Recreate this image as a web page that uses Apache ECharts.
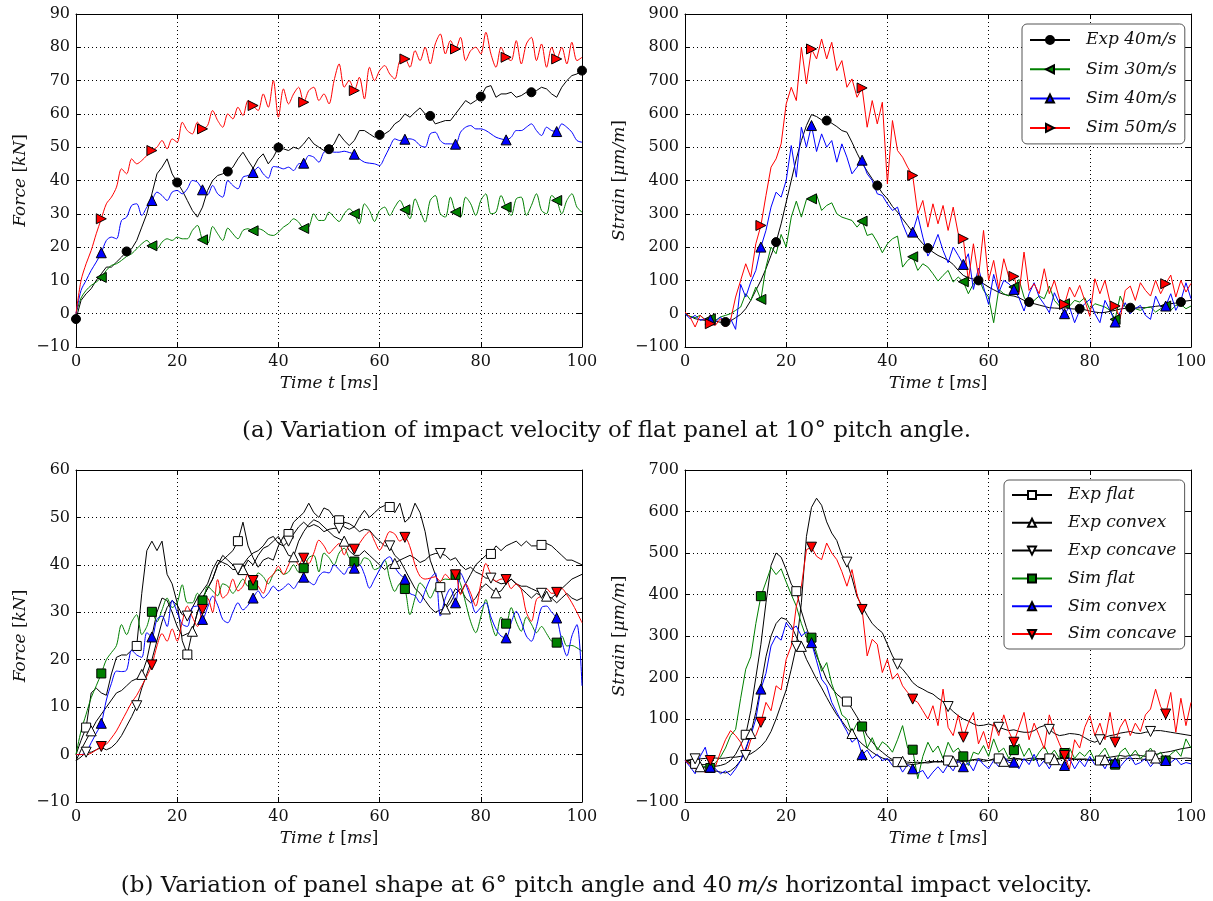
<!DOCTYPE html>
<html>
<head>
<meta charset="utf-8">
<script src="https://cdn.jsdelivr.net/npm/echarts@6/dist/echarts.min.js"></script>
<style>
  html, body { margin: 0; padding: 0; background: #fff; }
  #chart { width: 1213px; height: 901px; }
</style>
</head>
<body>
<div id="chart"></div>
<script>
// shared time base, ms
const timeMs = [0,1,2,3,4,5,6,7,8,9,10,11,12,13,14,15,16,17,18,19,20,21,22,23,24,25,26,27,28,29,30,31,32,33,34,35,36,37,38,39,40,41,42,43,44,45,46,47,48,49,50,51,52,53,54,55,56,57,58,59,60,61,62,63,64,65,66,67,68,69,70,71,72,73,74,75,76,77,78,79,80,81,82,83,84,85,86,87,88,89,90,91,92,93,94,95,96,97,98,99,100];

// where markers sit along each curve (ms)
const marksTens = [0,10,20,30,40,50,60,70,80,90,100];
const marksFives = [5,15,25,35,45,55,65,75,85,95];
const marksEights = [8,18,28,38,48,58,68,78,88,98];
const marksTwos = [2,12,22,32,42,52,62,72,82,92];
const marksThrees = [3,13,23,33,43,53,63,73,83,93];

// (a) force [kN], flat panel, 10 deg pitch
const forceExp40 = [-1.6,4,6,7.5,10,12,14,14,15.5,17,
  18.7,19.5,22,26,30,36,42,44,46.5,42,
  39.4,37,34,31,29,32,37,40,41.5,42,
  42.7,44,46.5,48.5,46,43.7,46.5,48,45,47,
  49.9,49.5,49,50,49.5,51,53,51,50,49,
  49.4,51,54,52,50.5,52,55,55,54,53,
  53.7,54,55,57,58,60,59,60.5,61.8,60,
  59.4,57,57.5,58,58,60,62,64,63,64,
  65.2,68,68.5,65,66,66,66.5,65,65.5,66.5,
  66.5,67,68,67.5,66,65,68,70,71.5,72,
  73];
const forceSim30 = [0,4.7,7,8.5,9.5,10.9,13,14.5,15,16,
  17.2,18,19.5,21,22,20.4,19.5,21.5,22.5,22,
  23,22.5,22.5,25,26.5,22.2,21,26.2,24,22,
  25.7,24,22.5,25,25.5,24.9,25.5,25,23.8,23.5,
  24.5,26,27,28.5,27.5,25.6,26,30,28,28,
  30.5,29,27.7,30,31.5,30,27,33,31,27.7,
  31,32,29.5,32,34,31.2,28.5,34.5,31,27.5,
  34,35.5,30,29,35,30.5,29,35,33,29.5,
  34,36,30,30.5,35.5,32,29.5,34.5,35,29.5,
  32.5,36,31,30,35.5,34,30,34,36,32,
  30.5];
const forceSim40 = [0,7,10,13,15.5,18.3,22,23,22.5,28,
  29,32.5,33,29.5,32,34,36.5,35.5,34,36.5,
  37,36,37.5,40,39.5,37.2,35.7,38.5,36,35,
  40,38.5,37.5,41,41.5,42.4,44,42,40.7,44.2,
  44,43.5,44,43,45,45.2,47.5,47,45.5,48.5,
  49,48.5,48.5,48.8,48.4,47.9,46.5,45.5,45.2,45,
  44.5,47,50,52.5,52,52.4,52.5,52,50.5,50,
  54,54.5,52,51,51,50.9,54.5,56,56.5,55.5,
  55.5,55,54,53,52.5,52.2,53,55,55,56,
  57,55,53.5,56,55,54.7,57,56,54.5,52,
  51.5];
const forceSim50 = [0,10,15,19,24,28.5,33,35,38,43.5,
  42,46.5,45,46,47.5,49,50,52,49.5,52.5,
  51.5,57.5,55,54,57.5,55.5,56.5,61,58,56,
  60,58.5,62,59.5,64,62.5,61,66,62,70,
  59,67.5,63,66,68,63.5,67,68,64,66,
  63,70,75,68,70,67,71,64.5,74,70,
  73,74.5,72,70.5,76,76.5,74,79,76,80,
  75,81,84,78,82,79.5,83,76,79,80,
  78,84.5,78,74,80,77,76,82,75,81,
  83,76,81,74,80,76.5,80,75,81.5,76,
  77];

// (a) strain [um/m]
const strainExp40 = [-2,-8,-15,-18,-20,-18,-22,-26,-25,-22,
  -12,-2,15,40,70,100,135,175,215,270,
  335,400,465,520,565,598,592,582,580,572,
  562,550,545,515,482,452,428,405,385,362,
  345,322,305,285,265,245,228,210,197,185,
  175,168,160,148,130,115,108,104,100,90,
  80,72,64,58,55,53,48,40,35,30,
  26,22,18,17,16,18,15,14,15,12,
  8,5,3,4,7,10,14,16,18,17,
  18,18,20,22,24,26,30,32,35,38,
  40];
const strainSim30 = [0,-8,-12,-5,-18,-15,-20,-10,-5,0,
  10,20,60,40,80,43,140,200,180,238,
  200,290,338,290,343,345,358,310,325,333,
  300,290,285,280,260,278,235,240,215,183,
  210,225,233,140,160,171,130,150,140,120,
  98,115,130,95,110,96,60,90,110,70,
  50,-27,73,60,53,80,103,50,23,40,
  53,45,83,40,23,30,23,40,35,48,
  13,30,25,20,10,-17,53,20,8,15,
  10,18,20,5,15,23,10,25,28,15,
  23];
const strainSim40 = [0,-15,-5,-20,-15,-18,-25,-10,-30,-15,
  -47,88,50,95,130,200,250,320,365,350,
  400,505,410,560,500,565,487,540,500,520,
  455,510,470,420,440,461,420,400,360,355,
  330,310,320,270,233,245,295,230,173,200,
  238,190,153,200,175,148,180,73,137,80,
  28,118,63,100,90,73,48,8,60,93,
  50,28,3,63,30,0,20,-27,10,30,
  43,0,-27,40,10,-25,5,33,0,15,
  25,-5,-17,53,20,23,60,10,40,93,
  45];
const strainSim50 = [5,-10,-40,-5,-20,-30,-35,-15,-40,-20,
  50,100,150,110,210,265,355,440,465,510,
  630,680,640,800,690,795,765,825,765,815,
  730,760,680,705,650,678,560,640,570,635,
  390,580,490,470,440,415,300,340,260,330,
  270,325,250,320,240,225,100,210,110,250,
  100,160,75,165,110,112,60,185,70,90,
  60,135,60,100,45,28,80,50,85,40,
  -8,105,60,100,35,23,-15,70,83,40,
  93,70,53,100,60,90,116,50,100,65,
  91];

// (b) force [kN], panel shape, 6 deg pitch
const shapeForceExpFlat = [0,3,5.7,13,14,13,12.5,17,20.5,21,
  21,22,22.9,34,43,45,43,45,38,36,
  32,24,21.1,26,30,33,35,37,40,41,
  42,43,45,49,44,41.5,39.5,41,41.5,41,
  44,46,46.5,49,50,51,53,51,50,52,
  51.5,50,49.4,48,47.5,48,50,51.5,50,51,
  52,52.5,52.2,51,53,49,50,53,51,47,
  41,38,35.3,31,33,35,34,36,38,40,
  41,42,42.3,44,43,44,44.5,45,44,45,
  44,44,44.2,44.5,44,43,42,41,41,40.5,
  40];
const shapeForceExpConvex = [-1.3,1,3,5,7,8.5,10,11.5,13,13.5,
  14.5,15.5,16,16.9,20,25,30,33,32.5,30,
  27,25,25.5,26,30,33,35,37,40,42,
  41,40,39.5,39,41,40,42,43.5,44,45,
  46,44,42,41.7,45,47,48.5,49.5,49,48,
  47,46,45.5,45,43,42,42,43,42,41,
  40,39,40,40.3,41,39,37,35,34,32.5,
  31,30,30.5,30.7,32,34,35,33,32,33,
  35,36,35,34.1,34.5,36,37,36,35,34,
  33,34,33.5,33.4,33,32,33,34,33,32.5,
  33];
const shapeForceExpConcave = [-1.3,-0.5,0.5,0.5,1,1.5,1,1.5,2.5,4,
  6,8,10.3,14,17,20,24,28,31,32.5,
  31.5,29.5,29.2,31,33,34.5,36,39,41,40.5,
  40,39,39.1,40,41.5,42.5,43,44,45.5,46,
  44.5,44,45,46.5,48,49,48,48.5,48,47,
  47.5,47.7,47.7,49,48.7,48,47,47.5,47.3,46,
  45,44,44,42,41,41.5,42,41.4,40.5,41,
  42,42.4,42.4,42,41,41.5,40,39,39.5,38.5,
  38,37.2,37.2,36.5,36,36.2,37,36,35.5,35.5,
  35,34.5,34,33.5,33,34,35,36,37,37.5,
  38];
const shapeForceSimFlat = [0,5,8.5,12,14.5,17.1,20,21.5,23,27.4,
  25.3,28,29.5,25.3,27,30.1,28,30.5,33,31,
  32,35.8,32,32,34,32.5,35.5,34.5,33.5,36,
  35.5,34,35.5,37,35.5,35.7,38.3,37.5,36,38,
  39,38,38.5,40,38.5,39.3,41.5,42,38.5,42.5,
  41.5,40,42.5,43.5,41.5,40.7,40,41.5,41,39,
  39.5,41,37,34.4,36,34.9,29.5,33,36.2,35,
  33,35,36.5,37,36.9,37.9,36,32,28,25.7,
  29,32.7,28,25,29,27.6,31,28,26,29,
  27.5,25.7,27,25.5,23.9,23.6,25,22.9,23,22.5,
  21.8];
const shapeForceSimConvex = [0,0,0.5,2.5,4.5,6.6,11.5,15,17.6,17.5,
  17.8,22,21,20.5,25.7,24.8,28.5,29.2,27,32.5,
  30,27.5,27,31,31.3,28.5,31,33.4,31.5,28.5,
  27.8,30,32,30.5,31.5,33,34.5,33,34,35.5,
  34.5,35.1,36,35,36.5,37.4,36.5,35.8,37.6,38.5,
  38.3,40,39,38,39.5,39.3,40,38,35.1,37,
  39,41,41.7,39.5,38,37,34,33.5,32,34.5,
  37,38.3,29.2,33,35,32,38.3,36,33,29.9,
  31,32,29,26.5,25,24.6,27.8,30.2,28,25,
  23.9,27,31,31.3,30,28.8,24,20.8,25,27.4,
  14.5];
const shapeForceSimConcave = [0,0,0,0.3,1,1.7,2.2,3.5,5,7,
  9,11,12.5,14.5,16.5,18.9,22.9,25.5,23.9,26.5,
  23.9,28,31.3,29,27,30.6,33,30,36.9,33,
  34,37,34.5,35.5,38,36.7,35.5,34,37,38,
  39.7,38,40,42,40,41.4,40.3,42.5,45.2,44,
  42.4,43.5,44.5,42.1,44,43.3,44.5,46,47,45,
  43.1,45,47,46.5,45,45.8,43.8,40,37.6,37,
  37.2,37.5,36.5,38,37,37.9,33.7,36,34,31.3,
  36,40.3,38,36.5,37,36.9,35,36,34.8,30,
  28.1,32.7,33.5,35,34,34.2,35,33.7,32,30,
  27.8];

// (b) strain [um/m]
const shapeStrainExpFlat = [0,-5,-8,-10,-10,-12,-14,-12,-8,0,
  15,38,62,120,200,280,380,470,500,490,
  460,425,408,360,320,285,252,225,195,175,
  160,150,142,125,105,85,60,45,30,20,
  10,2,-4,-6,-8,-10,-8,-5,-6,-4,
  -2,-4,0,0,2,0,-2,2,4,2,
  0,4,5,2,4,6,4,2,5,6,
  4,5,5,6,4,5,6,4,2,4,
  2,0,0,6,8,10,12,10,12,14,
  12,10,12,14,18,20,22,25,28,30,
  32];
const shapeStrainExpConvex = [0,-5,-10,-15,-18,-20,-25,-28,-30,-25,
  -15,0,25,65,116,180,250,300,330,344,
  340,325,298,275,244,220,196,175,152,130,
  110,95,78,65,52,40,30,20,12,6,
  2,0,0,-2,-4,-5,-4,-6,-3,-2,
  -4,-2,0,-2,-4,-2,0,2,0,-2,
  0,2,0,-2,0,2,4,2,0,2,
  4,2,0,2,4,6,4,2,4,2,
  0,2,4,2,0,2,4,6,4,5,
  4,2,4,6,4,5,6,4,5,6,
  5];
const shapeStrainExpConcave = [0,2,4,4,5,4,6,5,6,8,
  8,10,12,16,24,34,48,70,100,135,
  170,220,275,380,540,610,632,615,575,548,
  530,495,478,440,395,372,350,330,318,308,
  280,252,232,220,205,188,178,172,165,160,
  150,142,130,118,108,100,95,88,84,85,
  88,84,80,76,72,74,70,68,68,72,
  80,84,75,65,60,62,65,64,62,55,
  48,44,50,56,60,62,66,68,70,66,
  65,68,70,72,72,70,68,66,64,62,
  60];
const shapeStrainSimFlat = [0,-8,-16,-12,-15,-18,-5,8,30,60,
  75,150,220,250,330,396,430,465,448,462,
  430,400,372,330,296,296,260,215,236,185,
  150,110,100,65,90,82,30,55,25,45,
  36,20,50,84,30,26,-44,10,44,20,
  35,5,44,20,30,10,-12,20,15,36,
  10,52,20,30,5,25,40,10,30,0,
  20,35,10,25,5,18,30,5,20,10,
  25,0,15,30,5,-10,20,30,10,25,
  5,15,30,10,20,0,15,25,10,52,
  30];
const shapeStrainSimConvex = [0,-15,-32,10,32,-16,-20,-32,-25,-36,
  -20,0,30,60,100,172,210,276,300,290,
  332,316,324,300,310,284,240,196,180,140,
  116,92,70,44,55,14,25,5,15,0,
  5,-12,-5,-28,-10,-20,-30,-24,-44,-28,
  -15,-30,-10,-25,0,-15,-5,-25,5,-10,
  -20,0,-15,10,-5,-4,-20,5,-10,15,
  -15,0,-20,5,-10,-12,5,-20,0,-15,
  10,-10,0,-20,5,-5,-15,0,10,-10,
  -5,5,-15,0,-10,0,-5,5,-10,-5,
  -8];
const shapeStrainSimConcave = [0,-10,-20,-5,-30,0,-15,20,50,72,
  60,44,10,50,60,92,140,120,180,170,
  244,276,372,420,508,514,492,484,524,500,
  484,455,420,460,400,364,252,292,280,212,
  244,196,210,180,164,148,140,120,100,132,
  84,172,80,60,110,56,90,116,40,70,
  28,90,60,110,70,44,80,116,50,90,
  60,28,110,70,40,12,-20,50,30,80,
  108,60,90,50,116,44,80,100,60,90,
  70,110,124,172,130,112,164,68,150,84,
  140];

const FONT = 'DejaVu Serif';
const INK = '#111';

function tickText(v) { return String(v).replace('-', '\u2212'); }

const richName = {
  i: { fontFamily: FONT, fontStyle: 'italic', fontSize: 17, color: INK }
};

// four panels: [left, top, width, height]
const panels = [
  { box: [76, 14, 506, 333], y: [-10, 90, 10], yName: '{i|Force} [{i|kN}]', yGap: 47 },
  { box: [685, 14, 506, 333], y: [-100, 900, 100], yName: '{i|Strain} [{i|\u03bcm/m}]', yGap: 57 },
  { box: [76, 470, 506, 332], y: [-10, 60, 10], yName: '{i|Force} [{i|kN}]', yGap: 47 },
  { box: [685, 470, 506, 332], y: [-100, 700, 100], yName: '{i|Strain} [{i|\u03bcm/m}]', yGap: 57 }
];

const frameLine = { show: true, onZero: false, lineStyle: { color: '#000', width: 1 } };
const innerTick = { show: true, inside: true, length: 5, lineStyle: { color: '#000', width: 1 } };
const dotGrid = { show: true, lineStyle: { color: '#000', width: 1, type: [1, 3] } };

const grids = [], xAxes = [], yAxes = [];
panels.forEach((p, i) => {
  grids.push({ left: p.box[0], top: p.box[1], width: p.box[2], height: p.box[3] });
  xAxes.push({
    type: 'value', gridIndex: i, min: 0, max: 100, interval: 20,
    axisLine: frameLine, axisTick: innerTick, splitLine: dotGrid,
    axisLabel: { fontFamily: FONT, fontSize: 16, color: INK, margin: 7, formatter: tickText },
    name: '{i|Time t} [{i|ms}]', nameLocation: 'middle', nameGap: 28,
    nameTextStyle: { fontFamily: FONT, fontSize: 17, color: INK, rich: richName }
  });
  xAxes.push({
    type: 'value', gridIndex: i, position: 'top', min: 0, max: 100, interval: 20,
    axisLine: frameLine, axisTick: innerTick, splitLine: { show: false }, axisLabel: { show: false }
  });
  yAxes.push({
    type: 'value', gridIndex: i, min: p.y[0], max: p.y[1], interval: p.y[2],
    axisLine: frameLine, axisTick: innerTick, splitLine: dotGrid,
    axisLabel: { fontFamily: FONT, fontSize: 16, color: INK, margin: 6, formatter: tickText },
    name: p.yName, nameLocation: 'middle', nameGap: p.yGap, nameRotate: 90,
    nameTextStyle: { fontFamily: FONT, fontSize: 17, color: INK, rich: richName }
  });
  yAxes.push({
    type: 'value', gridIndex: i, position: 'right', min: p.y[0], max: p.y[1], interval: p.y[2],
    axisLine: frameLine, axisTick: innerTick, splitLine: { show: false }, axisLabel: { show: false }
  });
});

function curve(name, panel, values, marks, look) {
  const data = values.map((v, k) => {
    const t = timeMs[k];
    return marks.includes(t) ? [t, v] : { value: [t, v], symbol: 'none' };
  });
  return {
    name, type: 'line', xAxisIndex: panel * 2, yAxisIndex: panel * 2, data,
    symbol: look.symbol, symbolSize: look.size, symbolRotate: look.rotate || 0,
    showSymbol: true, showAllSymbol: true, smooth: look.smooth || false,
    lineStyle: { color: look.line, width: 1 },
    itemStyle: { color: look.fill, borderColor: '#000', borderWidth: 1 },
    emphasis: { disabled: true }, silent: true, animation: false
  };
}

const BLACK = '#000', GREEN = '#008000', BLUE = '#0000ff', RED = '#ff0000';
const dot = { symbol: 'circle', size: 9, line: BLACK, fill: BLACK };
const leftTri = { symbol: 'triangle', size: 10, rotate: 90, line: GREEN, fill: GREEN };
const upTriBlue = { symbol: 'triangle', size: 10, line: BLUE, fill: BLUE };
const rightTri = { symbol: 'triangle', size: 10, rotate: -90, line: RED, fill: RED };

const series = [
  curve('Exp 40m/s', 0, forceExp40, marksTens, dot),
  curve('Sim 30m/s', 0, forceSim30, marksFives, Object.assign({ smooth: 0.3 }, leftTri)),
  curve('Sim 40m/s', 0, forceSim40, marksFives, Object.assign({ smooth: 0.3 }, upTriBlue)),
  curve('Sim 50m/s', 0, forceSim50, marksFives, Object.assign({ smooth: 0.3 }, rightTri)),

  curve('Exp 40m/s', 1, strainExp40, marksEights, dot),
  curve('Sim 30m/s', 1, strainSim30, marksFives, leftTri),
  curve('Sim 40m/s', 1, strainSim40, marksFives, upTriBlue),
  curve('Sim 50m/s', 1, strainSim50, marksFives, rightTri),

  curve('Exp flat', 2, shapeForceExpFlat, marksTwos, { symbol: 'rect', size: 9, line: BLACK, fill: '#fff' }),
  curve('Exp convex', 2, shapeForceExpConvex, marksThrees, { symbol: 'triangle', size: 10, line: BLACK, fill: '#fff' }),
  curve('Exp concave', 2, shapeForceExpConcave, marksTwos, { symbol: 'triangle', size: 10, rotate: 180, line: BLACK, fill: '#fff' }),
  curve('Sim flat', 2, shapeForceSimFlat, marksFives, { symbol: 'rect', size: 9, line: GREEN, fill: GREEN, smooth: 0.3 }),
  curve('Sim convex', 2, shapeForceSimConvex, marksFives, { symbol: 'triangle', size: 10, line: BLUE, fill: BLUE, smooth: 0.3 }),
  curve('Sim concave', 2, shapeForceSimConcave, marksFives, { symbol: 'triangle', size: 10, rotate: 180, line: RED, fill: RED, smooth: 0.3 }),

  curve('Exp flat', 3, shapeStrainExpFlat, marksTwos, { symbol: 'rect', size: 9, line: BLACK, fill: '#fff' }),
  curve('Exp convex', 3, shapeStrainExpConvex, marksThrees, { symbol: 'triangle', size: 10, line: BLACK, fill: '#fff' }),
  curve('Exp concave', 3, shapeStrainExpConcave, marksTwos, { symbol: 'triangle', size: 10, rotate: 180, line: BLACK, fill: '#fff' }),
  curve('Sim flat', 3, shapeStrainSimFlat, marksFives, { symbol: 'rect', size: 9, line: GREEN, fill: GREEN }),
  curve('Sim convex', 3, shapeStrainSimConvex, marksFives, { symbol: 'triangle', size: 10, line: BLUE, fill: BLUE }),
  curve('Sim concave', 3, shapeStrainSimConcave, marksFives, { symbol: 'triangle', size: 10, rotate: 180, line: RED, fill: RED })
];

const legendText = { fontFamily: FONT, fontStyle: 'italic', fontSize: 17, color: INK, lineHeight: 20, padding: [0, 0, 0, 11] };
const legendBox = {
  orient: 'vertical', itemWidth: 40, itemHeight: 10, selectedMode: false,
  borderColor: '#555', borderWidth: 1, borderRadius: 5, backgroundColor: '#fff',
  textStyle: legendText
};

const chart = echarts.init(document.getElementById('chart'), null, { renderer: 'canvas' });
chart.setOption({
  backgroundColor: '#fff',
  animation: false,
  grid: grids,
  xAxis: xAxes,
  yAxis: yAxes,
  legend: [
    Object.assign({}, legendBox, {
      data: ['Exp 40m/s', 'Sim 30m/s', 'Sim 40m/s', 'Sim 50m/s'],
      left: 1022, top: 24, padding: [6, 8, 6, 7], itemGap: 9.3
    }),
    Object.assign({}, legendBox, {
      data: ['Exp flat', 'Exp convex', 'Exp concave', 'Sim flat', 'Sim convex', 'Sim concave'],
      left: 1004, top: 480, padding: [5, 8, 5, 7], itemGap: 7.8
    })
  ],
  title: [
    {
      text: '(a) Variation of impact velocity of flat panel at 10\u00b0 pitch angle.',
      left: 'center', top: 415,
      textStyle: { fontFamily: FONT, fontSize: 23, fontWeight: 'normal', color: INK }
    },
    {
      text: '(b) Variation of panel shape at 6\u00b0 pitch angle and 40\u2009{i|m/s} horizontal impact velocity.',
      left: 'center', top: 870,
      textStyle: {
        fontFamily: FONT, fontSize: 23, fontWeight: 'normal', color: INK,
        rich: { i: { fontFamily: FONT, fontSize: 23, fontStyle: 'italic', color: INK } }
      }
    }
  ],
  series
});
</script>
</body>
</html>
